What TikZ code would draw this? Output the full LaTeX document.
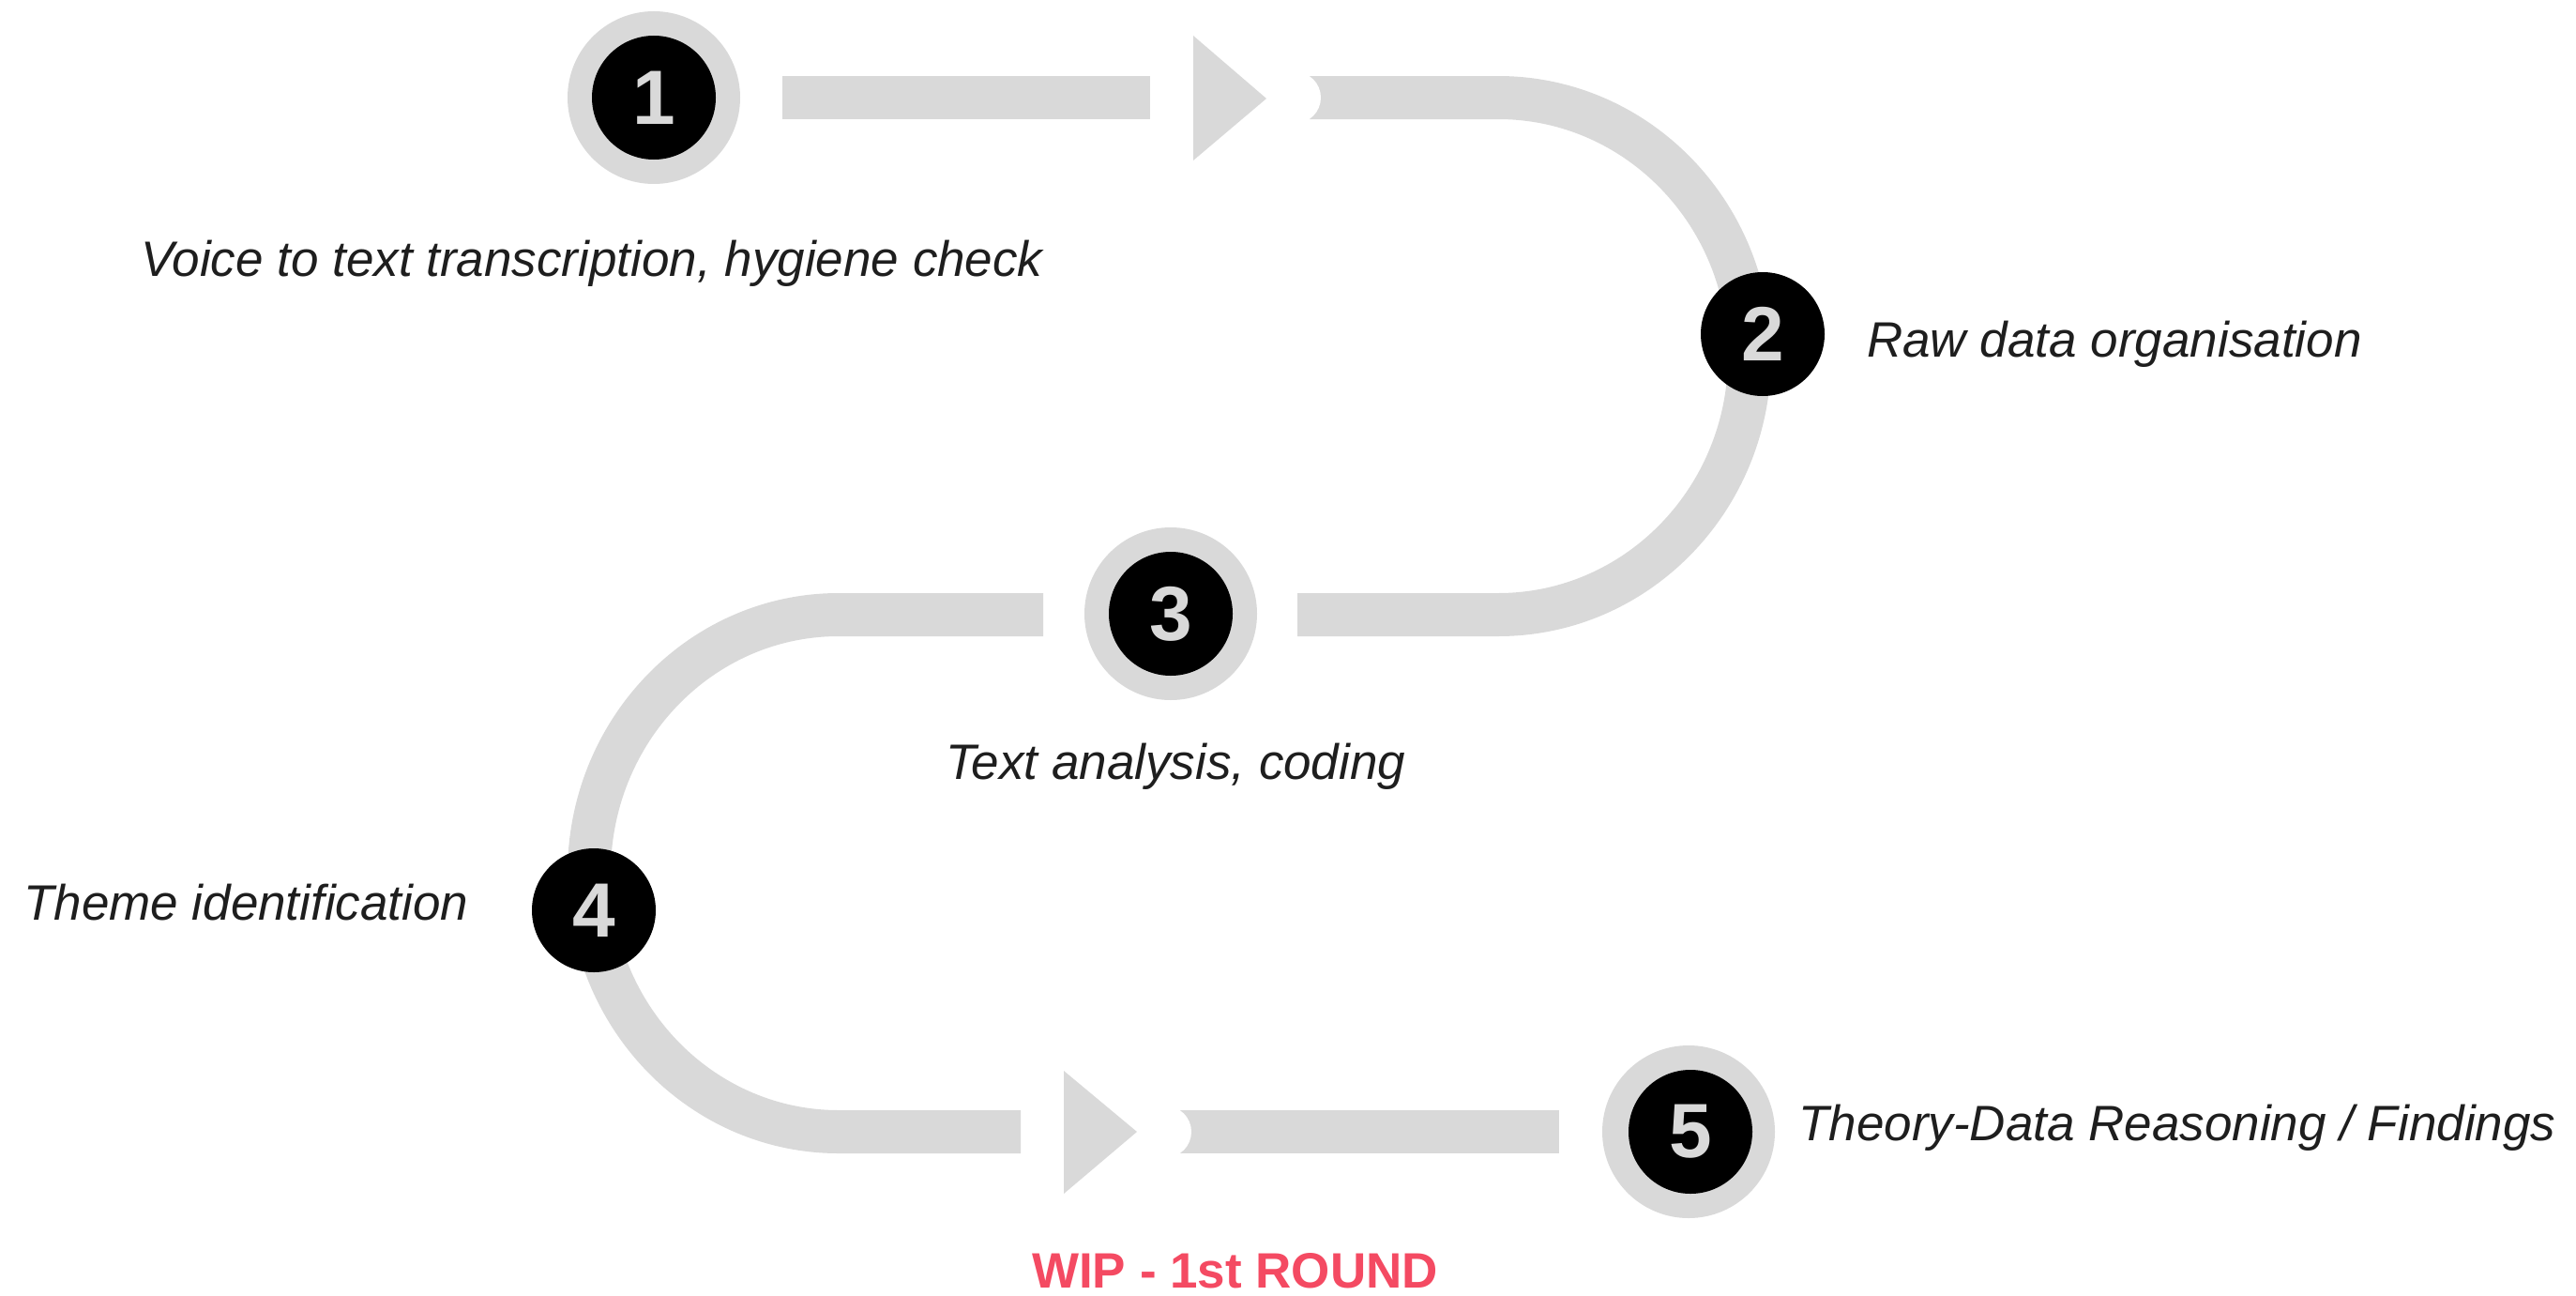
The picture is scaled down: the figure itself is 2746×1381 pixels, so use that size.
\documentclass[tikz,border=0pt]{standalone}
\usepackage{fontspec}
\setmainfont{Liberation Sans}
\definecolor{band}{HTML}{D9D9D9}
\definecolor{ink}{HTML}{1E1E1E}
\definecolor{wip}{HTML}{F44A62}

\begin{document}
\begin{tikzpicture}[x=1pt, y=-1pt,
  bandline/.style={draw=band, line width=46pt},
  headfill/.style={fill=band},
  ring/.style={circle, fill=band, minimum size=184pt, inner sep=0pt},
  disc/.style={circle, fill=black, minimum size=132pt, inner sep=0pt,
    text=band, font=\fontsize{82}{82}\selectfont\bfseries},
  steplabel/.style={anchor=base west, inner sep=0pt, text=ink,
    font=\fontsize{53}{60}\selectfont\itshape},
  notelabel/.style={anchor=base west, inner sep=0pt, text=wip,
    font=\fontsize{53}{60}\selectfont\bfseries}
]
\useasboundingbox (0,0) rectangle (2746,1381);

% track: first straight run and arrow head
\draw[bandline] (834,104) -- (1226,104);
\fill[headfill] (1272,38) -- (1350,105) -- (1272,171) -- cycle;

% track: right-hand bend down to the middle row
\draw[bandline] (1396,104) -- (1597,104)
  arc[start angle=90, end angle=-90, x radius=268pt, y radius=275.5pt]
  -- (1383,655);
\fill[white] (1380.5,104) circle[radius=27.5pt];

% track: left-hand bend down to the bottom row
\draw[bandline] (1112,655) -- (894,655)
  arc[start angle=90, end angle=270, x radius=266pt, y radius=275.5pt]
  -- (1088,1206);
\fill[headfill] (1134,1141) -- (1212,1206) -- (1134,1272) -- cycle;
\draw[bandline] (1258,1206) -- (1662,1206);
\fill[white] (1242.5,1206) circle[radius=27.5pt];

% numbered stations
\node[ring] (r1) at (697,104) {};
\node[disc] (n1) at (697,104) {1};
\node[disc] (n2) at (1879,356) {2};
\node[ring] (r3) at (1248,654) {};
\node[disc] (n3) at (1248,654) {3};
\node[disc] (n4) at (633,970) {4};
\node[ring] (r5) at (1800,1206) {};
\node[disc] (n5) at (1802,1206) {5};

% step descriptions
\node[steplabel] (t1) at (150,294) {Voice to text transcription, hygiene check};
\node[steplabel] (t2) at (1990,380) {Raw data organisation};
\node[steplabel] (t3) at (1008,830) {Text analysis, coding};
\node[steplabel] (t4) at (25,980) {Theme identification};
\node[steplabel] (t5) at (1917,1215) {Theory-Data Reasoning / Findings};

\node[notelabel] (wip) at (1100,1372) {WIP - 1st ROUND};
\end{tikzpicture}
\end{document}
